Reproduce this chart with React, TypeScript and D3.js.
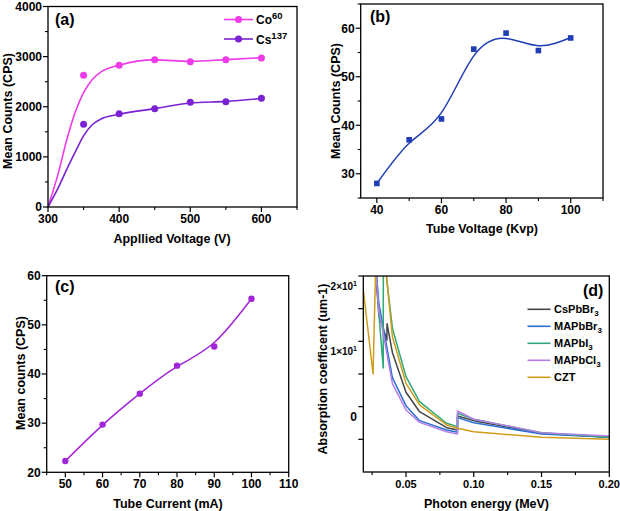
import React from 'react';
import * as d3 from 'd3';

const FONT = "'Liberation Sans', Arial, Helvetica, sans-serif";

// ---------- Panel (a) ----------
const voltageA = [350, 400, 450, 500, 550, 600];
const co60 = [2630, 2830, 2940, 2900, 2940, 2975];
const cs137 = [1650, 1860, 1960, 2090, 2100, 2170];
const co60FitV = [300, 315, 326, 338, 350, 362, 375, 400, 450, 500, 550, 600];
const co60Fit = [0, 700, 1320, 1880, 2280, 2540, 2700, 2830, 2935, 2905, 2940, 2978];
const cs137FitV = [300, 315, 326, 338, 350, 362, 375, 400, 450, 500, 550, 600];
const cs137Fit = [0, 400, 740, 1090, 1420, 1640, 1760, 1850, 1962, 2076, 2108, 2165];
const aXTicks = [300, 400, 500, 600];
const aXMinor = [350, 450, 550, 650];
const aYTicks = [0, 1000, 2000, 3000, 4000];
const aYMinor = [500, 1500, 2500, 3500];

// ---------- Panel (b) ----------
const tubeVoltage = [40, 50, 60, 70, 80, 90, 100];
const countsB = [28, 37, 41.3, 55.7, 59, 55.4, 58];
const fitBV = [40, 50, 60, 70, 80, 90, 100];
const fitB = [28, 36.3, 42.6, 54.3, 57.9, 56.4, 58.1];
const bXTicks = [40, 60, 80, 100];
const bXMinor = [50, 70, 90, 110];
const bYTicks = [30, 40, 50, 60];
const bYMinor = [25, 35, 45, 55, 65];

// ---------- Panel (c) ----------
const tubeCurrent = [50, 60, 70, 80, 90, 100];
const countsC = [22.3, 29.7, 36, 41.7, 45.6, 55.3];
const fitCV = [50, 60, 70, 80, 90, 100];
const fitC = [22.3, 29.6, 36, 41.5, 46.4, 55.3];
const cXTicks = [50, 60, 70, 80, 90, 100, 110];
const cXMinor = [45, 55, 65, 75, 85, 95, 105];
const cYTicks = [20, 30, 40, 50, 60];
const cYMinor = [25, 35, 45, 55];

// ---------- Panel (d) ----------
const energyCsPbBr3 = [0.0185, 0.03, 0.0359, 0.036, 0.04, 0.05, 0.06, 0.08, 0.08799, 0.088, 0.1, 0.15, 0.2];
const absCsPbBr3 = [45, 14.0, 10.2, 12.7, 8.27, 2.2, -0.77, -3.22, -3.57, -1.42, -2.14, -4.07, -4.69];
const energyMAPbBr3 = [0.0185, 0.03, 0.04, 0.05, 0.06, 0.08, 0.08799, 0.088, 0.1, 0.15, 0.2];
const absMAPbBr3 = [45, 15.8, 4.4, 0.15, -2.14, -3.57, -3.92, -1.68, -2.45, -4.18, -4.69];
const energyMAPbI3 = [0.0185, 0.03, 0.0332, 0.0333, 0.04, 0.05, 0.06, 0.08, 0.08799, 0.088, 0.1, 0.15, 0.2];
const absMAPbI3 = [54, 14.2, 5.9, 24, 12.0, 4.59, 0.77, -2.54, -3.06, -1.01, -1.93, -3.98, -4.69];
const energyMAPbCl3 = [0.0185, 0.03, 0.04, 0.05, 0.06, 0.08, 0.08799, 0.088, 0.1, 0.15, 0.2];
const absMAPbCl3 = [45, 14.8, 3.5, -0.5, -2.4, -3.83, -4.2, -0.66, -1.93, -3.98, -4.49];
const energyCZT = [0.0185, 0.0257, 0.0277, 0.0318, 0.0319, 0.04, 0.05, 0.06, 0.08, 0.088, 0.1, 0.15, 0.2];
const absCZT = [17.9, 5.0, 22, 24, 27.7, 10.7, 3.58, 0.26, -2.8, -3.31, -3.83, -4.69, -4.99];
const dNames = ['CsPbBr', 'MAPbBr', 'MAPbI', 'MAPbCl', 'CZT'];
const dSubs = ['3', '3', '3', '3', ''];
const dColors = ['#444444', '#2a6fd2', '#2da878', '#b57ee6', '#d19c1a'];
const dXTicks = [0.05, 0.1, 0.15, 0.2];
const dXMinor = [0.025, 0.075, 0.125, 0.175];
const dYTicks = [20, 15, 10, 5, 0, -5];
const dYLabels = [20, 10, 0];

type Scale = d3.ScaleLinear<number, number>;

function Axes({ x, y, xt, xm, yt, ym, xfmt, yfmt, fs }: any) {
  const [x0, x1] = x.range();
  const [y1, y0] = y.range();
  return (
    <g>
      {xt.map((v: number) => (
        <g key={'xt' + v}>
          <line x1={x(v)} x2={x(v)} y1={y1} y2={y1 + 5} stroke="#000" strokeWidth={1.2} />
          <text x={x(v)} y={y1 + 16} textAnchor="middle" fontSize={fs} fontWeight="bold" fontFamily={FONT}>
            {xfmt ? xfmt(v) : v}
          </text>
        </g>
      ))}
      {xm.map((v: number) => (
        <line key={'xm' + v} x1={x(v)} x2={x(v)} y1={y1} y2={y1 + 3} stroke="#000" strokeWidth={1.1} />
      ))}
      {yt.map((v: number) => (
        <g key={'yt' + v}>
          <line x1={x0 - 5} x2={x0} y1={y(v)} y2={y(v)} stroke="#000" strokeWidth={1.2} />
          {yfmt !== null && (
            <text x={x0 - 6} y={y(v)} dy="0.36em" textAnchor="end" fontSize={fs} fontWeight="bold" fontFamily={FONT}>
              {yfmt ? yfmt(v) : v}
            </text>
          )}
        </g>
      ))}
      {ym.map((v: number) => (
        <line key={'ym' + v} x1={x0 - 3} x2={x0} y1={y(v)} y2={y(v)} stroke="#000" strokeWidth={1.1} />
      ))}
      <rect x={x0} y={y0} width={x1 - x0} height={y1 - y0} fill="none" stroke="#000" strokeWidth={1.3} />
    </g>
  );
}

function mkLine(x: Scale, y: Scale, xs: number[], ys: number[], curve: any) {
  return d3
    .line<number>()
    .x((_, i) => x(xs[i]))
    .y((d) => y(d))
    .curve(curve)(ys) as string;
}

export default function App() {
  // (a)
  const xa = d3.scaleLinear().domain([300, 650]).range([48, 297]);
  const ya = d3.scaleLinear().domain([0, 4000]).range([207, 6.5]);
  const coCol = '#ee3ae8';
  const csCol = '#7a22d2';
  // (b)
  const xb = d3.scaleLinear().domain([35, 110]).range([360.7, 603]);
  const yb = d3.scaleLinear().domain([25, 65]).range([198, 4]);
  const bCol = '#1f3db5';
  // (c)
  const xc = d3.scaleLinear().domain([45, 110]).range([46.7, 288.7]);
  const yc = d3.scaleLinear().domain([20, 60]).range([472.3, 275.7]);
  const cCol = '#a224d8';
  // (d)
  const xd = d3.scaleLinear().domain([0.0185, 0.2]).range([363.3, 609.3]);
  const yd = d3.scaleLinear().domain([-10, 20]).range([472, 276]);
  const dEnergies = [energyCsPbBr3, energyMAPbBr3, energyMAPbI3, energyMAPbCl3, energyCZT];
  const dValues = [absCsPbBr3, absMAPbBr3, absMAPbI3, absMAPbCl3, absCZT];

  const titleFs = 12.5;
  const tickFs = 12;

  return (
    <svg
      width={620}
      height={511}
      viewBox="0 0 620 511"
      style={{ position: 'absolute', left: 0, top: 0, background: '#fff' }}
    >
      <rect x={0} y={0} width={620} height={511} fill="#fff" />
      <defs>
        <clipPath id="clipD">
          <rect x={363.3} y={276} width={246} height={196} />
        </clipPath>
        <clipPath id="clipA">
          <rect x={48} y={6.5} width={249} height={200.5} />
        </clipPath>
      </defs>

      {/* ---------- (a) ---------- */}
      <g clipPath="url(#clipA)">
        <path d={mkLine(xa, ya, co60FitV, co60Fit, d3.curveMonotoneX)} fill="none" stroke={coCol} strokeWidth={1.6} />
        <path d={mkLine(xa, ya, cs137FitV, cs137Fit, d3.curveMonotoneX)} fill="none" stroke={csCol} strokeWidth={1.6} />
      </g>
      {voltageA.map((v, i) => (
        <circle key={'co' + v} cx={xa(v)} cy={ya(co60[i])} r={3.5} fill={coCol} />
      ))}
      {voltageA.map((v, i) => (
        <circle key={'cs' + v} cx={xa(v)} cy={ya(cs137[i])} r={3.5} fill={csCol} />
      ))}
      <Axes x={xa} y={ya} xt={aXTicks} xm={aXMinor} yt={aYTicks} ym={aYMinor} fs={tickFs} />
      <text x={55} y={25} fontSize={16} fontWeight="bold" fontFamily={FONT}>(a)</text>
      <line x1={224} x2={253} y1={19.5} y2={19.5} stroke={coCol} strokeWidth={1.6} />
      <circle cx={238.5} cy={19.5} r={3.5} fill={coCol} />
      <text x={256} y={24} fontSize={12} fontWeight="bold" fontFamily={FONT}>
        Co<tspan fontSize={9.5} dy={-5}>60</tspan>
      </text>
      <line x1={224} x2={253} y1={39} y2={39} stroke={csCol} strokeWidth={1.6} />
      <circle cx={238.5} cy={39} r={3.5} fill={csCol} />
      <text x={256} y={43.5} fontSize={12} fontWeight="bold" fontFamily={FONT}>
        Cs<tspan fontSize={9.5} dy={-5}>137</tspan>
      </text>
      <text x={172} y={242.5} textAnchor="middle" fontSize={titleFs} fontWeight="bold" fontFamily={FONT}>
        Appllied Voltage (V)
      </text>
      <text transform="translate(11.5,111) rotate(-90)" textAnchor="middle" fontSize={titleFs} fontWeight="bold" fontFamily={FONT}>
        Mean Counts (CPS)
      </text>

      {/* ---------- (b) ---------- */}
      <path d={mkLine(xb, yb, fitBV, fitB, d3.curveNatural)} fill="none" stroke={bCol} strokeWidth={1.5} />
      {tubeVoltage.map((v, i) => (
        <rect key={'b' + v} x={xb(v) - 2.8} y={yb(countsB[i]) - 2.8} width={5.6} height={5.6} fill={bCol} />
      ))}
      <Axes x={xb} y={yb} xt={bXTicks} xm={bXMinor} yt={bYTicks} ym={bYMinor} fs={tickFs} />
      <text x={370} y={22} fontSize={16} fontWeight="bold" fontFamily={FONT}>(b)</text>
      <text x={482} y={232.5} textAnchor="middle" fontSize={titleFs} fontWeight="bold" fontFamily={FONT}>
        Tube Voltage (Kvp)
      </text>
      <text transform="translate(339.5,101) rotate(-90)" textAnchor="middle" fontSize={titleFs} fontWeight="bold" fontFamily={FONT}>
        Mean Counts (CPS)
      </text>

      {/* ---------- (c) ---------- */}
      <path d={mkLine(xc, yc, fitCV, fitC, d3.curveNatural)} fill="none" stroke={cCol} strokeWidth={1.5} />
      {tubeCurrent.map((v, i) => (
        <circle key={'c' + v} cx={xc(v)} cy={yc(countsC[i])} r={3.2} fill={cCol} />
      ))}
      <Axes x={xc} y={yc} xt={cXTicks} xm={cXMinor} yt={cYTicks} ym={cYMinor} fs={tickFs} />
      <text x={55} y={292} fontSize={16} fontWeight="bold" fontFamily={FONT}>(c)</text>
      <text x={168} y={507.5} textAnchor="middle" fontSize={titleFs} fontWeight="bold" fontFamily={FONT}>
        Tube Current (mA)
      </text>
      <text transform="translate(24.5,373) rotate(-90)" textAnchor="middle" fontSize={titleFs} fontWeight="bold" fontFamily={FONT}>
        Mean counts (CPS)
      </text>

      {/* ---------- (d) ---------- */}
      <g clipPath="url(#clipD)">
        {dValues.map((vals, k) => (
          <path
            key={'d' + k}
            d={mkLine(xd, yd, dEnergies[k], vals, d3.curveLinear)}
            fill="none"
            stroke={dColors[k]}
            strokeWidth={1.5}
            strokeLinejoin="round"
          />
        ))}
      </g>
      <Axes
        x={xd}
        y={yd}
        xt={dXTicks}
        xm={dXMinor}
        yt={dYTicks}
        ym={[]}
        xfmt={(v: number) => d3.format('.2f')(v)}
        yfmt={null}
        fs={11}
      />
      {dYLabels.map((v) =>
        v === 0 ? (
          <text key={'dl' + v} x={357} y={yd(v) + 10} dy="0.36em" textAnchor="end" fontSize={12} fontWeight="bold" fontFamily={FONT}>
            0
          </text>
        ) : (
          <text key={'dl' + v} x={357} y={yd(v) + 10} dy="0.36em" textAnchor="end" fontSize={10} fontWeight="bold" fontFamily={FONT}>
            {v / 10}×10<tspan fontSize={7} dy={-4}>1</tspan>
          </text>
        )
      )}
      <text x={583} y={295.5} fontSize={16} fontWeight="bold" fontFamily={FONT}>(d)</text>
      {dNames.map((n, k) => (
        <g key={'leg' + n}>
          <line x1={527.5} x2={550.5} y1={309.3 + k * 17} y2={309.3 + k * 17} stroke={dColors[k]} strokeWidth={1.6} />
          <text x={554} y={309.3 + k * 17 + 4} fontSize={11} fontWeight="bold" fontFamily={FONT}>
            {n}
            {dSubs[k] && (
              <tspan fontSize={8} dy={3}>
                {dSubs[k]}
              </tspan>
            )}
          </text>
        </g>
      ))}
      <text x={486.5} y={507.5} textAnchor="middle" fontSize={titleFs} fontWeight="bold" fontFamily={FONT}>
        Photon energy (MeV)
      </text>
      <text transform="translate(326.5,369) rotate(-90)" textAnchor="middle" fontSize={titleFs} fontWeight="bold" fontFamily={FONT}>
        Absorption coefficent (um-1)
      </text>
    </svg>
  );
}
